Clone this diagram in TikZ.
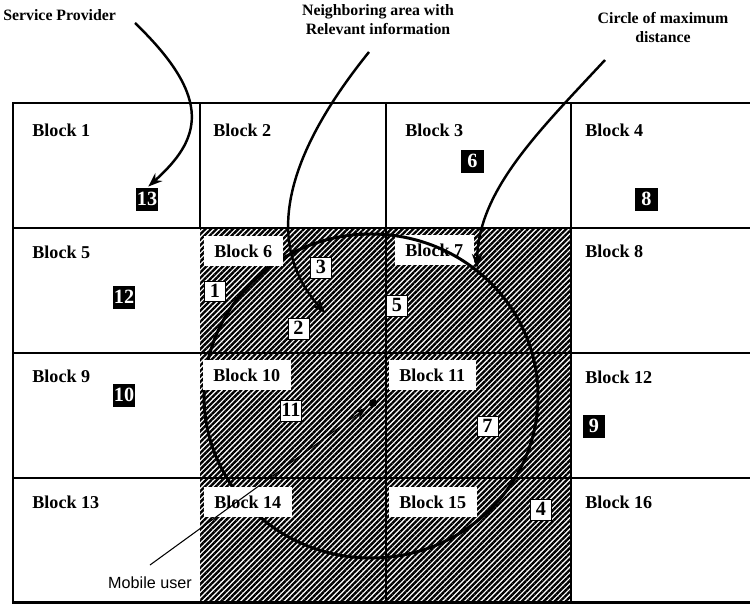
\documentclass[tikz,border=0pt]{standalone}
\usepackage{fontspec}
\setmainfont{Liberation Serif}
\setsansfont{Liberation Sans}
\usetikzlibrary{arrows.meta,patterns.meta}
\tikzset{
  blk/.style={font=\fontsize{10.3}{12}\selectfont\bfseries, fill=white, anchor=west,
      xshift=-6pt, inner xsep=6pt, inner ysep=5pt},
  srv/.style={fill=black, text=white, font=\fontsize{11.5}{12}\selectfont\bfseries,
      minimum size=13pt, inner sep=0.5pt, text height=0.68em, text depth=0pt},
  req/.style={draw=black, line width=0.5pt, fill=white, font=\fontsize{11.5}{12}\selectfont\bfseries,
      minimum width=12pt, minimum height=11.5pt, inner sep=0.5pt, text height=0.68em, text depth=0pt},
  ttl/.style={font=\fontsize{9}{10.8}\selectfont\bfseries, align=center, inner sep=0pt},
  grd/.style={line width=0.6pt},
  frm/.style={line width=1.3pt, line join=miter},
  hatch/.style={pattern={Lines[angle=45,distance=2.2pt,line width=1.35pt]}},
  carr/.style={-{Stealth[length=8pt,width=6pt]}, line width=1.4pt},
  ring/.style={line width=1.7pt},
}

\begin{document}
\begin{tikzpicture}[x=0.02cm,y=-0.02cm]
  \useasboundingbox (0,0) rectangle (750,604);

  % zone holding the relevant information
  \fill[hatch] (200,228) rectangle (571,603);

  % block grid
  \draw[grd] (200,103) -- (200,228);
  \draw[grd] (386,103) -- (386,603);
  \draw[grd] (571,103) -- (571,603);
  \foreach \y in {228,353,478}
    \draw[grd] (13,\y) -- (750,\y);
  \draw[frm] (750,103) -- (13,103) -- (13,602.5) -- (750,602.5);

  \node[blk] (blk7) at (405,250) {Block 7};

  % circle of maximum distance
  \draw[ring] (371,396) ellipse [x radius=167, y radius=162];

  \foreach \n/\x/\y in {1/32/130, 2/213/130, 3/405/130, 4/585/130,
                        5/32/252, 6/214/251, 8/585/251,
                        9/32/376, 10/213/375, 11/399/375, 12/585/377,
                        13/32/502, 14/214/502, 15/399/502, 16/585/502}
    \node[blk] (blk\n) at (\x,\y) {Block \n};

  % service providers
  \foreach \n/\x/\y in {13/147/199.5, 6/472.5/161.5, 8/646.5/199.5,
                        12/124/297.5, 10/124/395.5, 9/594/426.5}
    \node[srv] (s\n) at (\x,\y) {\n};

  % items in the neighbouring area
  \foreach \n/\x/\y in {1/215/291.5, 3/321/268, 2/298.5/329, 5/397/306,
                        11/291/411, 7/487.5/426.5, 4/541/510}
    \node[req] (r\n) at (\x,\y) {\n};

  % captions with their arrows
  \node[ttl, anchor=west] (sp) at (3,15) {Service Provider};
  \node[ttl] (nb) at (378,19.5) {Neighboring area with\\Relevant information};
  \node[ttl] (cm) at (663,27.5) {Circle of maximum\\distance};

  \coordinate (sptail) at (135,23);
  \coordinate (nbtail) at (369,52);
  \coordinate (nbhead) at (325,313);
  \coordinate (cmtail) at (605,60);
  \coordinate (cmhead) at (477,268);
  \draw[carr, shorten >=1pt] (sptail) .. controls (215,100) and (200,140) .. (s13.north);
  \draw[carr] (nbtail) .. controls (290,150) and (260,240) .. (nbhead);
  \draw[carr] (cmtail) .. controls (540,130) and (478,190) .. (cmhead);

  % mobile user
  \coordinate (user) at (373,403);
  \coordinate (mobtail) at (150,565);
  \node[font=\fontsize{9.2}{11}\selectfont\sffamily] (mob) at (150,583) {Mobile user};
  \fill (user) circle (4);
  \draw[-{Stealth[length=7pt,width=5pt]}, line width=0.6pt, shorten >=4.5pt] (mobtail) -- (user);
\end{tikzpicture}
\end{document}
